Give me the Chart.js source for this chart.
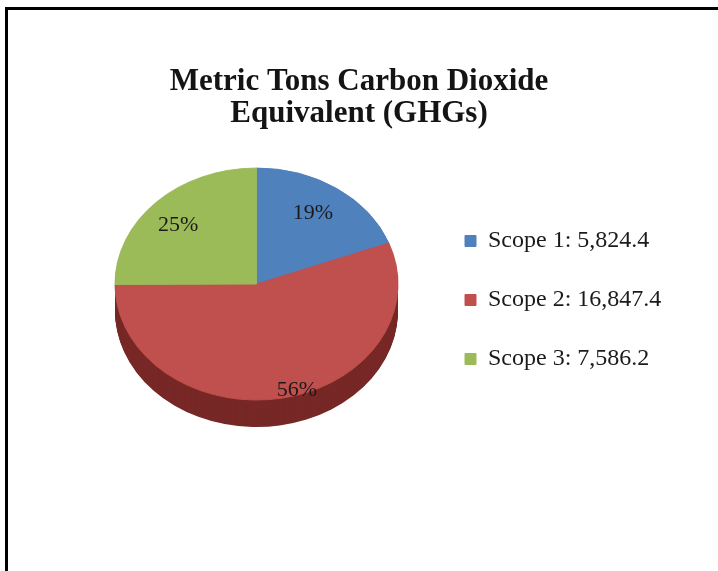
<!DOCTYPE html>
<html>
<head>
<meta charset="utf-8">
<script src="https://cdn.jsdelivr.net/npm/chart.js@4/dist/chart.umd.min.js"></script>
<style>
  body { margin: 0; background: #fff; }
  #wrap { position: relative; width: 718px; height: 571px; overflow: hidden; }
  #frame { position: absolute; left: 5px; top: 7px; width: 720px; height: 570px;
           border-top: 3px solid #000; border-left: 3px solid #000; }
  #grafico { position: absolute; left: 0; top: 0; }
</style>
</head>
<body>
<div id="wrap">
  <div id="frame"></div>
  <canvas id="grafico" width="718" height="571"></canvas>
</div>
<script>
const categorias = ["Scope 1", "Scope 2", "Scope 3"];
const valores = [5824.4, 16847.4, 7586.2];
const titulo = ["Metric Tons Carbon Dioxide", "Equivalent (GHGs)"];

const cores = ["#4f81bd", "#c0504d", "#9bbb59"];
const coresLado = ["#2f5584", "#772826", "#637a33"];

const fonteLegenda = { family: "'Liberation Serif', serif", size: 24 };
const padLegenda = 35;
const caixa = 11;

function textoLegenda(i) {
  return categorias[i] + ": " + valores[i].toLocaleString("en-US", { minimumFractionDigits: 1 });
}

// width the legend box will take, so the pie and legend land where they should
function larguraLegenda() {
  const c = document.createElement("canvas").getContext("2d");
  c.font = fonteLegenda.size + "px " + fonteLegenda.family;
  const maior = Math.max(...categorias.map((_, i) => c.measureText(textoLegenda(i)).width));
  return padLegenda + caixa + fonteLegenda.size / 2 + maior + 10;
}

// pie tilted: vertical squash + side depth, labels inside slices
const pie3d = {
  id: "pie3d",
  afterLayout(chart) {
    // title centred on the whole canvas, not between the paddings
    const t = chart.titleBlock;
    t.left = 0;
    t.right = chart.width;
    t.width = chart.width;
  },
  beforeDatasetsDraw(chart, args, opts) {
    const ctx = chart.ctx;
    const arcs = chart.getDatasetMeta(0).data;
    const cx = arcs[0].x, cy = arcs[0].y;
    for (let d = opts.depth; d >= 1; d--) {
      arcs.forEach((el, i) => {
        ctx.save();
        ctx.translate(cx, cy + d);
        ctx.scale(1, opts.tilt);
        ctx.beginPath();
        ctx.moveTo(0, 0);
        ctx.arc(0, 0, el.outerRadius, el.startAngle, el.endAngle);
        ctx.closePath();
        ctx.fillStyle = opts.sideColors[i];
        ctx.fill();
        ctx.restore();
      });
    }
    ctx.save();
    ctx.translate(cx, cy);
    ctx.scale(1, opts.tilt);
    ctx.translate(-cx, -cy);
  },
  afterDatasetsDraw(chart, args, opts) {
    const ctx = chart.ctx;
    ctx.restore();
    const arcs = chart.getDatasetMeta(0).data;
    const total = valores.reduce((a, b) => a + b, 0);
    ctx.save();
    ctx.font = opts.font;
    ctx.fillStyle = opts.color;
    ctx.textAlign = "center";
    ctx.textBaseline = "middle";
    arcs.forEach((el, i) => {
      const meio = (el.startAngle + el.endAngle) / 2;
      const [fx, fy] = opts.labelPos[i];
      const x = el.x + Math.cos(meio) * el.outerRadius * fx;
      const y = el.y + Math.sin(meio) * el.outerRadius * opts.tilt * fy;
      ctx.fillText(Math.round(valores[i] / total * 100) + "%", x, y);
    });
    ctx.restore();
  }
};

function gerarGrafico() {
  const ctx = document.getElementById("grafico").getContext("2d");
  const legendaEsq = 430;
  new Chart(ctx, {
    type: "pie",
    data: {
      labels: categorias,
      datasets: [{
        data: valores,
        backgroundColor: cores,
        borderColor: cores,
        borderWidth: 1,
        radius: 141.5,
        clip: false
      }]
    },
    options: {
      responsive: false,
      animation: false,
      layout: { padding: { left: 83, right: 718 - legendaEsq - larguraLegenda(), top: 0, bottom: 165 } },
      plugins: {
        tooltip: { enabled: false },
        title: {
          display: true,
          text: titulo,
          color: "#141414",
          font: { family: "'Liberation Serif', serif", size: 31, weight: "bold", lineHeight: 1.04 },
          padding: { top: 66, bottom: 31.6 }
        },
        legend: {
          position: "right",
          align: "end",
          onClick: null,
          labels: {
            boxWidth: caixa,
            boxHeight: caixa,
            padding: padLegenda,
            color: "#1a1a1a",
            font: fonteLegenda,
            generateLabels(chart) {
              const itens = Chart.overrides.pie.plugins.legend.labels.generateLabels(chart);
              itens.forEach((it, i) => { it.text = textoLegenda(i); });
              return itens;
            }
          }
        },
        pie3d: {
          tilt: 116 / 141.5,
          depth: 27,
          sideColors: coresLado,
          font: "22px 'Liberation Serif', serif",
          color: "#1a1a1a",
          labelPos: [[0.70, 0.74], [1.57, 0.93], [0.78, 0.72]]
        }
      }
    },
    plugins: [pie3d]
  });
}

window.onload = gerarGrafico;
</script>
</body>
</html>
